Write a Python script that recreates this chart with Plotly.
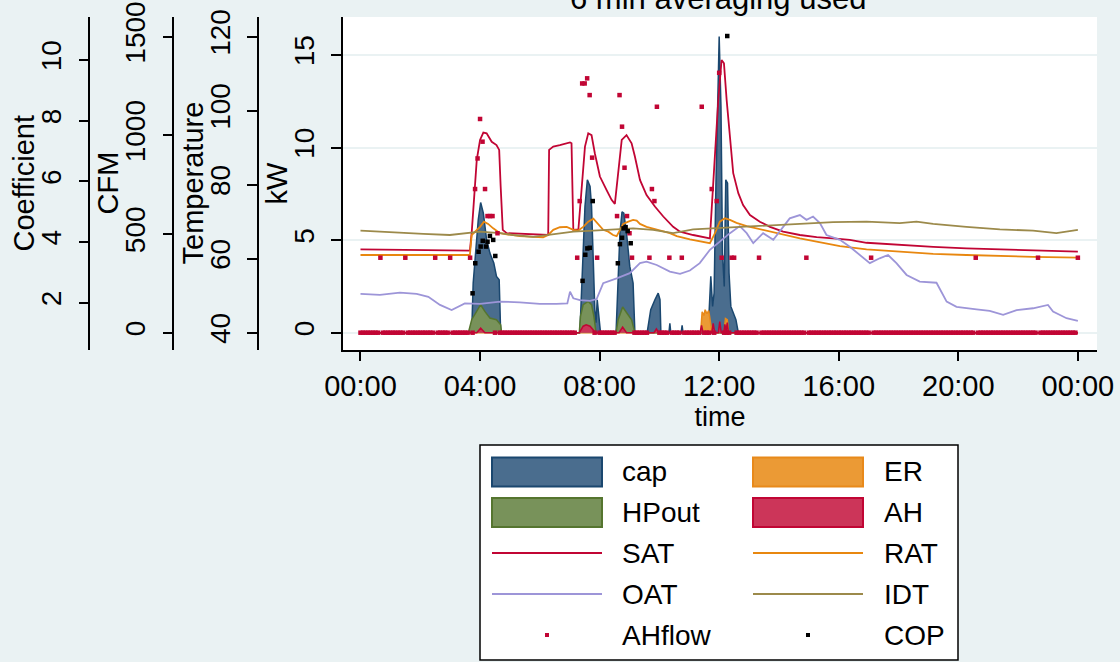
import plotly.graph_objects as go

# ---------------- data (hours since midnight) ----------------
cap_t = [0, 3.72, 3.77, 3.89, 3.94, 4.02, 4.11, 4.22, 4.33, 4.46, 4.55, 4.64, 4.69,
         7.34, 7.43, 7.51, 7.59, 7.68, 7.73, 7.79, 7.84, 7.88, 7.92, 7.97, 8.03,
         8.55, 8.62, 8.68, 8.75, 8.81, 8.90, 9.01, 9.12, 9.18,
         9.59, 9.71, 9.85, 9.96, 10.02, 10.05,
         10.32, 10.35, 10.38, 10.73, 10.76, 10.79,
         11.63, 11.72, 11.78, 11.83, 11.89, 11.95, 12.00, 12.06, 12.11, 12.17, 12.22,
         12.28, 12.33, 12.39, 12.47, 12.56, 12.64, 24]
cap_kw = [0, 0, 2.68, 5.02, 6.10, 7.03, 6.46, 5.02, 4.30, 3.76, 3.04, 2.86, 0,
          0, 3.58, 6.82, 8.26, 7.90, 6.82, 3.94, 1.24, 0.54, 1.78, 0.97, 0,
          0, 3.58, 5.38, 6.53, 6.46, 5.38, 3.58, 2.68, 0,
          0, 1.24, 1.78, 2.14, 1.78, 0,
          0, 0.5, 0, 0, 0.4, 0,
          0, 3.04, 1.42, 2.14, 7.90, 13.3, 16.0, 12.2, 4.30, 2.50, 8.26,
          8.08, 3.22, 1.42, 1.06, 0.70, 0, 0]

er_t = [0, 11.38, 11.43, 11.49, 11.53, 11.59, 11.65, 11.70, 11.76, 12.16, 12.21, 12.27, 12.32, 24]
er_kw = [0, 0, 1.13, 0.92, 1.24, 1.03, 1.19, 0.70, 0, 0, 0.76, 0.70, 0, 0]

hpout_t = [0, 3.61, 3.72, 3.89, 4.02, 4.16, 4.33, 4.55, 4.69, 4.72,
           7.32, 7.36, 7.45, 7.62, 7.73, 7.81, 7.88,
           8.55, 8.62, 8.77, 8.90, 9.07, 9.18, 24]
hpout_kw = [0, 0, 0.70, 1.15, 1.51, 1.15, 0.79, 0.70, 0.43, 0,
            0, 0.88, 1.51, 1.69, 1.51, 0.88, 0,
            0, 0.70, 1.39, 1.06, 0.70, 0, 0]

ah_t = [0, 3.89, 4.02, 4.16, 7.32, 7.45, 7.55, 7.68, 7.81, 7.88, 8.65, 8.77, 8.90,
        9.82, 9.90, 9.98, 11.36, 11.41, 11.46, 11.75, 11.80, 11.85, 11.97, 12.02, 12.07,
        12.15, 12.19, 12.23, 12.27, 12.31, 24]
ah_kw = [0, 0, 0.25, 0, 0, 0.35, 0.42, 0.35, 0.10, 0, 0, 0.30, 0,
         0, 0.20, 0, 0, 0.40, 0, 0, 0.50, 0, 0, 0.60, 0,
         0, 0.45, 0.10, 0.55, 0, 0]

sat_t = [0, 1.55, 2.32, 3.66, 3.72, 3.83, 3.89, 4.00, 4.11, 4.22, 4.39, 4.55, 4.64, 4.69,
         4.76, 4.89, 5.56, 6.28, 6.31, 6.45, 6.67, 7.01, 7.06, 7.12, 7.29, 7.40, 7.51,
         7.62, 7.73, 7.84, 8.01, 8.23, 8.40, 8.51, 8.62, 8.74, 8.90, 9.07, 9.18, 9.35,
         9.57, 9.85, 10.13, 10.46, 10.69, 11.13, 11.69, 11.80, 11.97, 12.08, 12.16,
         12.25, 12.36, 12.47, 12.64, 12.80, 13.03, 13.36, 13.70, 14.14, 14.70, 15.26,
         15.81, 16.37, 16.93, 18.04, 19.16, 20.27, 21.39, 22.50, 24.0]
sat_f = [62.5, 62.4, 62.2, 62.2, 66.9, 79.0, 86.7, 92.1, 94.1, 93.9, 91.6, 90.7, 89.4, 79.5,
         67.8, 66.9, 66.6, 66.4, 89.4, 90.3, 90.7, 91.4, 91.2, 67.8, 67.9, 79.5, 90.3,
         93.9, 93.4, 88.5, 82.2, 78.6, 75.9, 74.8, 83.1, 92.1, 93.4, 91.2, 87.6, 81.3,
         77.2, 74.1, 71.4, 68.6, 67.3, 66.4, 65.5, 80.4, 102.9, 113.7, 112.8,
         102.9, 92.1, 83.1, 77.7, 74.5, 71.8, 70.0, 68.6, 67.3, 66.4, 65.8,
         65.5, 65.1, 64.3, 63.7, 63.2, 62.8, 62.5, 62.4, 61.9]

rat_t = [0, 3.66, 3.72, 3.89, 4.00, 4.13, 4.27, 4.44, 4.67, 4.89, 5.33, 5.78, 6.11, 6.28,
         6.45, 6.67, 6.90, 7.12, 7.29, 7.45, 7.62, 7.79, 7.95, 8.12, 8.29, 8.45, 8.57,
         8.68, 8.79, 8.96, 9.12, 9.24, 9.35, 9.57, 9.91, 10.35, 10.58, 11.02, 11.69,
         11.86, 12.02, 12.19, 12.36, 12.58, 12.92, 13.25, 13.59, 14.14, 14.70, 15.26,
         16.04, 16.93, 18.04, 19.16, 20.27, 21.39, 22.50, 24.0]
rat_f = [61.0, 61.0, 66.4, 67.8, 68.6, 70.0, 69.4, 68.2, 66.9, 66.6, 66.1, 65.9, 65.8, 66.4,
         67.8, 68.5, 68.6, 67.8, 67.6, 68.6, 70.0, 70.8, 69.4, 67.8, 67.3, 66.4, 66.1,
         67.8, 69.4, 70.0, 70.5, 70.3, 69.4, 68.6, 67.8, 66.9, 66.1, 65.2, 64.2,
         66.9, 70.0, 70.9, 70.5, 69.7, 68.8, 68.2, 67.6, 66.4, 65.5, 64.6,
         63.4, 62.5, 61.9, 61.3, 61.0, 60.7, 60.5, 60.3]

oat_t = [0, 0.65, 1.32, 1.88, 2.27, 2.66, 3.05, 3.49, 4.00, 4.67, 5.33, 6.00, 6.56, 6.92,
         7.01, 7.12, 7.34, 7.68, 7.90, 8.12, 8.57, 9.01, 9.35, 9.57, 9.91, 10.35, 10.69,
         11.02, 11.35, 11.69, 12.02, 12.36, 12.69, 12.92, 13.14, 13.47, 13.81, 14.14,
         14.36, 14.70, 14.92, 15.14, 15.37, 15.59, 16.04, 16.37, 16.71, 17.04, 17.37,
         17.65, 17.93, 18.27, 18.71, 19.27, 19.61, 19.94, 20.61, 21.05, 21.50, 21.95,
         22.50, 23.00, 23.17, 23.62, 24.0]
oat_f = [50.5, 50.2, 50.8, 50.5, 49.7, 47.5, 46.1, 47.9, 47.8, 48.4, 48.2, 47.8, 47.8, 47.9,
         51.1, 49.3, 48.8, 48.6, 49.1, 53.4, 54.7, 56.1, 58.8, 59.2, 58.3, 56.5, 55.9,
         56.8, 58.8, 62.4, 64.6, 66.9, 68.8, 66.9, 64.2, 66.9, 65.1, 68.6,
         70.9, 71.8, 70.5, 71.4, 69.6, 66.4, 65.1, 63.2, 61.0, 58.8, 60.1,
         61.0, 58.8, 55.6, 53.8, 53.5, 48.4, 47.0, 46.3, 45.9, 44.8, 46.1,
         46.6, 47.5, 45.7, 43.9, 43.2]

idt_t = [0, 0.99, 2.10, 2.99, 3.66, 4.00, 4.67, 5.11, 5.78, 6.34, 7.12, 7.79, 8.45, 9.12,
         9.79, 10.46, 11.13, 11.80, 12.69, 13.59, 14.70, 15.81, 16.93, 18.04, 18.60,
         19.16, 20.27, 21.39, 22.50, 23.28, 24.0]
idt_f = [67.6, 67.1, 66.7, 66.4, 66.9, 67.3, 66.9, 66.4, 65.9, 66.4, 67.3, 67.6, 67.9, 68.2,
         67.8, 66.9, 67.9, 68.2, 68.5, 68.8, 69.4, 69.9, 70.0, 69.6, 70.0,
         69.4, 68.6, 67.9, 67.6, 66.9, 67.8]

# AHflow: 5-minute samples over the day (index -> CFM); every other sample reads 0
ahflow_step_h = 5 / 60
ahflow_nonzero = {8: 380, 18: 380, 30: 380, 36: 380, 44: 380, 46: 728, 47: 883, 48: 1083,
                  49: 968, 50: 728, 51: 591, 52: 591, 53: 591, 55: 504,
                  87: 380, 88: 667, 89: 1263, 90: 1263, 91: 1289, 92: 1204, 93: 887, 95: 380,
                  103: 591, 104: 1204, 105: 1044, 106: 836, 107: 591, 108: 504, 109: 380,
                  116: 380, 117: 728, 118: 667, 119: 1145, 124: 380, 129: 380,
                  137: 1145, 141: 728, 143: 667, 144: 1317, 145: 380, 149: 380, 150: 380,
                  160: 380, 179: 380, 205: 380, 247: 380, 272: 380, 288: 380}
ahflow_t = [k * ahflow_step_h for k in range(289)]
ahflow_cfm = [ahflow_nonzero.get(k, 0) for k in range(289)]

cop_t = [3.75, 3.84, 3.95, 4.02, 4.09, 4.20, 4.25, 4.33, 4.44, 4.51,
         7.43, 7.52, 7.59, 7.67, 7.77,
         8.61, 8.68, 8.75, 8.80, 8.87, 8.94, 9.04, 12.27]
cop_v = [2.31, 3.30, 3.68, 3.85, 4.04, 3.85, 4.01, 4.20, 4.07, 3.54,
         2.72, 3.58, 3.79, 3.81, 5.35,
         3.30, 3.93, 4.14, 4.45, 4.49, 4.36, 3.96, 10.79]

x_tickvals = [0, 4, 8, 12, 16, 20, 24]
x_ticktext = ["00:00", "04:00", "08:00", "12:00", "16:00", "20:00", "00:00"]

legend_rows = [("cap", "ER"), ("HPout", "AH"), ("SAT", "RAT"), ("OAT", "IDT"), ("AHflow", "COP")]

# ---------------- styles ----------------
C = {
    "cap": ("#1a476f", "#4a6d8e"),
    "ER": ("#e8891a", "#eb9a35"),
    "HPout": ("#55752f", "#78925a"),
    "AH": ("#c10534", "#cc3559"),
    "SAT": "#c10534",
    "RAT": "#e8870f",
    "OAT": "#9d95d8",
    "IDT": "#9c8a4b",
    "AHflow": "#c10534",
    "COP": "#000000",
}
FONT = "Liberation Sans, Arial, sans-serif"
BG = "#EAF2F3"
W, H = 1120, 662

fig = go.Figure()

def area(name, t, v):
    line, fill = C[name]
    fig.add_trace(go.Scatter(x=t, y=v, name=name, mode="lines", fill="tozeroy",
                             line=dict(color=line, width=1.5), fillcolor=fill,
                             yaxis="y", showlegend=False))

area("cap", cap_t, cap_kw)
area("ER", er_t, er_kw)
area("HPout", hpout_t, hpout_kw)
area("AH", ah_t, ah_kw)

for name, t, v in [("SAT", sat_t, sat_f), ("RAT", rat_t, rat_f), ("OAT", oat_t, oat_f), ("IDT", idt_t, idt_f)]:
    fig.add_trace(go.Scatter(x=t, y=v, name=name, mode="lines",
                             line=dict(color=C[name], width=1.8), yaxis="y2", showlegend=False))

fig.add_trace(go.Scatter(x=ahflow_t, y=ahflow_cfm, name="AHflow", mode="markers",
                         marker=dict(symbol="square", size=4.5, color=C["AHflow"], line=dict(width=0)),
                         yaxis="y3", showlegend=False))
fig.add_trace(go.Scatter(x=cop_t, y=cop_v, name="COP", mode="markers",
                         marker=dict(symbol="square", size=4.5, color=C["COP"], line=dict(width=0)),
                         yaxis="y4", showlegend=False))

def px_x(p):
    return p / W

def px_y(p):
    return 1 - p / H

plot_left, plot_right, plot_top, plot_bottom = 343, 1097, 17, 350
ydom = [px_y(plot_bottom), px_y(plot_top)]

axis_common = dict(showline=True, linecolor="black", linewidth=1.5, ticks="outside",
                   ticklen=10, tickwidth=1.5, tickcolor="black", zeroline=False,
                   automargin=False, ticklabelstandoff=6,
                   tickangle=-90, tickfont=dict(size=28, color="black", family=FONT))

fig.update_layout(
    template="none",
    width=W, height=H, margin=dict(l=0, r=0, t=0, b=0, autoexpand=False),
    paper_bgcolor=BG, plot_bgcolor="white", showlegend=False,
    font=dict(family=FONT, color="black"),
    xaxis=dict(domain=[px_x(plot_left), px_x(plot_right)], range=[-0.585, 24.64],
               anchor="y", showline=True, linecolor="black", linewidth=1.5, automargin=False,
               ticks="outside", ticklen=9, tickwidth=1.5, tickcolor="black",
               tickvals=x_tickvals, ticktext=x_ticktext, showgrid=False, zeroline=False,
               tickfont=dict(size=29, color="black", family=FONT),
               title=dict(text="time", font=dict(size=27, color="black", family=FONT), standoff=0)),
    yaxis=dict(domain=ydom, range=[-0.935, 17.05], tickvals=[0, 5, 10, 15],
               showgrid=True, gridcolor=BG, gridwidth=1.5, anchor="x", **axis_common),
    yaxis2=dict(overlaying="y", anchor="free", position=px_x(257.7), side="left",
                range=[35.32, 125.32], tickvals=[40, 60, 80, 100, 120], showgrid=False, **axis_common),
    yaxis3=dict(overlaying="y", anchor="free", position=px_x(173.3), side="left",
                range=[-87.7, 1599.8], tickvals=[0, 500, 1000, 1500], showgrid=False, **axis_common),
    yaxis4=dict(overlaying="y", anchor="free", position=px_x(89.3), side="left",
                range=[0.441, 11.417], tickvals=[2, 4, 6, 8, 10], showgrid=False, **axis_common),
)

# y-axis titles (vertical text beside each axis)
for text, cx in [("kW", 276), ("Temperature", 192), ("CFM", 107), ("Coefficient", 23)]:
    fig.add_annotation(text=text, x=px_x(cx), y=px_y(183.5), xref="paper", yref="paper",
                       xanchor="center", yanchor="middle", textangle=-90, showarrow=False,
                       font=dict(size=29, color="black", family=FONT))

# title (cut by the top edge, as in the source image)
fig.add_annotation(text="6 min averaging used", x=px_x(718), y=px_y(-1.5), xref="paper", yref="paper",
                   xanchor="center", yanchor="middle", showarrow=False,
                   font=dict(size=31, color="black", family=FONT))

# ---------------- legend (drawn as layout shapes + text) ----------------
shapes = [dict(type="rect", xref="paper", yref="paper", x0=px_x(480), x1=px_x(958),
               y0=px_y(660), y1=px_y(445), fillcolor="white", line=dict(color="black", width=1.5),
               layer="above")]
col_sw = [(492, 602), (753, 863)]
col_tx = [620, 882]
row_cy = [472, 512.5, 553, 594, 635]
for r, pair in enumerate(legend_rows):
    cy = row_cy[r]
    for c, name in enumerate(pair):
        x0, x1 = col_sw[c]
        if name in ("cap", "ER", "HPout", "AH"):
            line, fill = C[name]
            shapes.append(dict(type="rect", xref="paper", yref="paper", x0=px_x(x0), x1=px_x(x1),
                               y0=px_y(cy + 14.5), y1=px_y(cy - 14.5), fillcolor=fill,
                               line=dict(color=line, width=2), layer="above"))
        elif name in ("SAT", "RAT", "OAT", "IDT"):
            shapes.append(dict(type="line", xref="paper", yref="paper", x0=px_x(x0), x1=px_x(x1),
                               y0=px_y(cy), y1=px_y(cy), line=dict(color=C[name], width=2), layer="above"))
        else:
            mx = (x0 + x1) / 2
            shapes.append(dict(type="rect", xref="paper", yref="paper", x0=px_x(mx - 2), x1=px_x(mx + 2),
                               y0=px_y(cy + 2), y1=px_y(cy - 2), fillcolor=C[name],
                               line=dict(width=0), layer="above"))
        fig.add_annotation(text=name, x=px_x(col_tx[c]), y=px_y(cy), xref="paper", yref="paper",
                           xanchor="left", yanchor="middle", showarrow=False,
                           font=dict(size=28, color="black", family=FONT))
fig.update_layout(shapes=shapes)

fig.write_html("out.html")
